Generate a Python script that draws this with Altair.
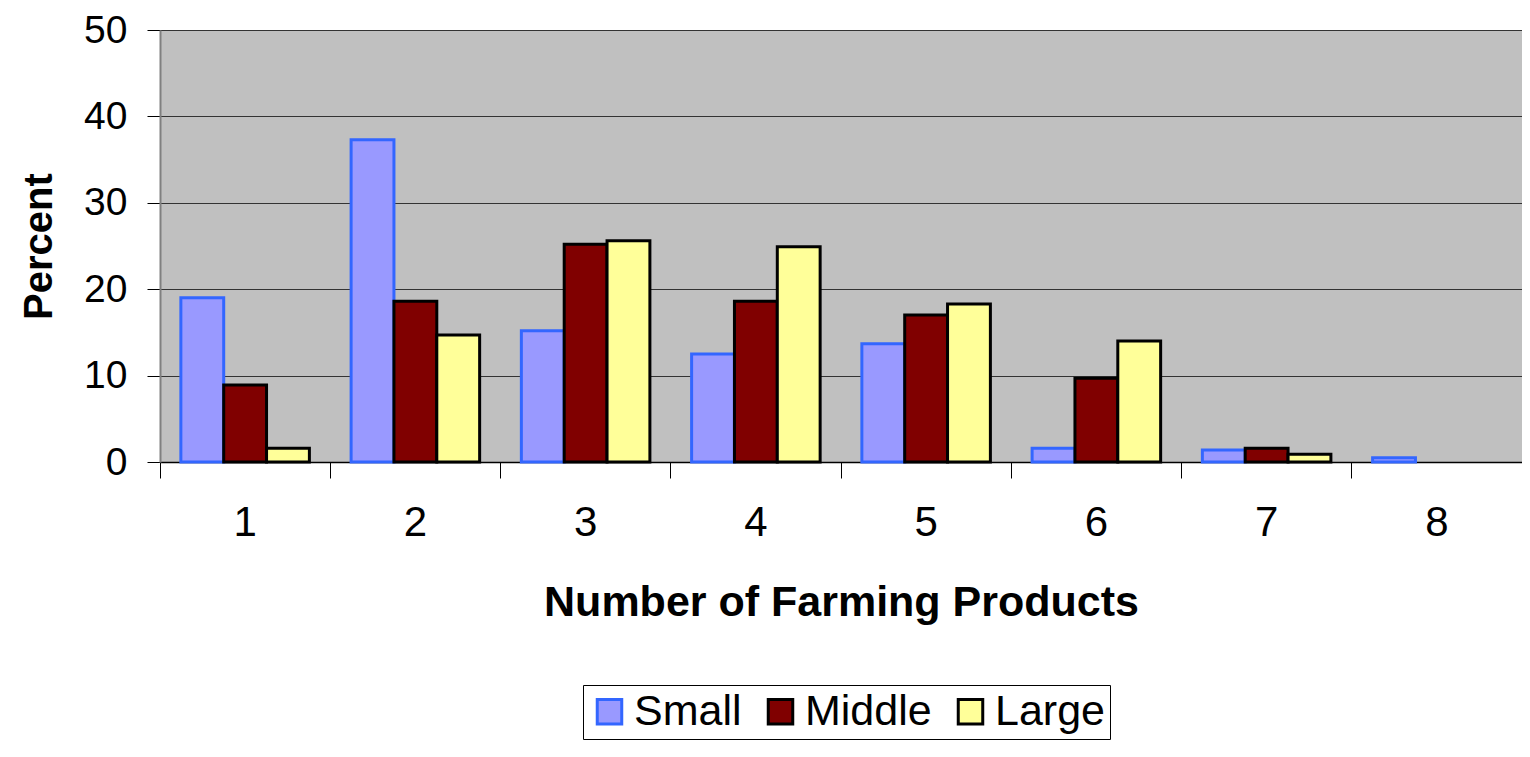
import altair as alt
import pandas as pd

categories = ["1", "2", "3", "4", "5", "6", "7", "8"]
series = ["Small", "Middle", "Large"]
small = [19.0, 37.3, 15.2, 12.5, 13.7, 1.6, 1.4, 0.5]
middle = [8.9, 18.6, 25.2, 18.6, 17.0, 9.7, 1.6, 0.0]
large = [1.6, 14.7, 25.6, 24.9, 18.3, 14.0, 0.9, 0.0]

fills = ["#9999FF", "#800000", "#FFFF99"]
strokes = ["#3366FF", "#000000", "#000000"]

rows = []
for name, vals in zip(series, [small, middle, large]):
    for c, v in zip(categories, vals):
        rows.append({"Products": c, "Size": name, "Percent": v})
df = pd.DataFrame(rows)

FONT = "Liberation Sans"

legend = alt.Legend(title=None, orient="none", legendX=423, legendY=655,
                    direction="horizontal", symbolType="square",
                    symbolSize=600, symbolStrokeWidth=3,
                    labelFontSize=43, labelFont=FONT, labelColor="#000000",
                    labelOffset=3, columnPadding=17,
                    padding=5, strokeColor="#000000", fillColor="#FFFFFF")

bars = alt.Chart(df).transform_filter("datum.Percent > 0").mark_bar(
    strokeWidth=3
).encode(
    x=alt.X("Products:N", sort=categories,
            scale=alt.Scale(paddingInner=0.245, paddingOuter=0.1225),
            axis=alt.Axis(title="Number of Farming Products", labelAngle=0,
                          bandPosition=-0.162, tickSize=16, tickColor="#000000",
                          domainColor="#000000", domainWidth=1.5,
                          labelFontSize=42, labelPadding=24, labelColor="#000000",
                          titleFontSize=43, titleFontWeight="bold", titlePadding=38,
                          titleColor="#000000", labelFont=FONT, titleFont=FONT)),
    xOffset=alt.XOffset("Size:N", sort=series, scale=alt.Scale(paddingInner=0, paddingOuter=0)),
    y=alt.Y("Percent:Q", scale=alt.Scale(domain=[0, 50], nice=False),
            axis=alt.Axis(title="Percent", values=[0, 10, 20, 30, 40, 50],
                          tickSize=13, tickColor="#000000", domainColor="#808080",
                          domainWidth=2, gridColor="#333333", gridWidth=1,
                          labelFontSize=39, labelPadding=20, labelColor="#000000",
                          titleFontSize=40, titleFontWeight="bold", titlePadding=24,
                          titleColor="#000000", labelFont=FONT, titleFont=FONT)),
    fill=alt.Fill("Size:N", sort=series,
                  scale=alt.Scale(domain=series, range=fills),
                  legend=legend),
    stroke=alt.Stroke("Size:N", sort=series,
                      scale=alt.Scale(domain=series, range=strokes),
                      legend=legend),
).properties(
    width=1362, height=432,
    autosize=alt.AutoSizeParams(type="none"),
    padding={"left": 152, "top": 22, "right": 0, "bottom": 287},
    background="#FFFFFF",
).configure_view(
    fill="#C0C0C0", stroke=None
)

chart = bars
chart.save("out.html", embed_options={"renderer": "svg", "actions": False})
